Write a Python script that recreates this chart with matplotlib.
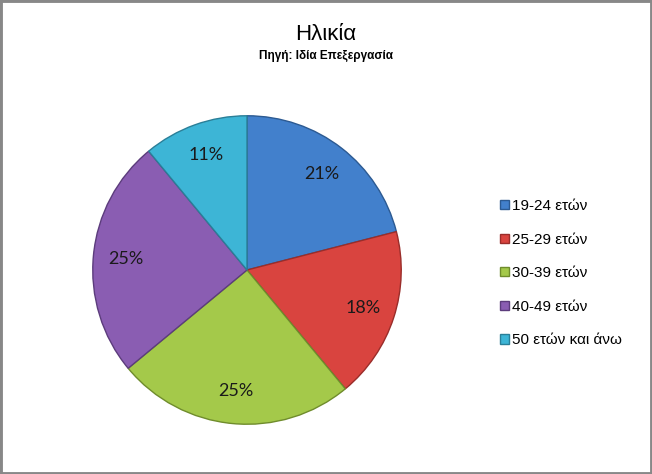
import matplotlib
matplotlib.use("Agg")
import matplotlib.pyplot as plt
from matplotlib.patches import Rectangle

categories = ["19-24 ετών", "25-29 ετών", "30-39 ετών", "40-49 ετών", "50 ετών και άνω"]
values = [21, 18, 25, 25, 11]
colors = ["#4280cc", "#d9443f", "#a4c94a", "#8a5db2", "#3db5d6"]
edge_colors = ["#2c5a92", "#9a2d2a", "#6f8c2c", "#5c3c7c", "#2a7f98"]
title = "Ηλικία"
subtitle = "Πηγή: Ιδία Επεξεργασία"

W, H = 652, 474
fig = plt.figure(figsize=(W / 100, H / 100), dpi=100)
fig.patch.set_facecolor("white")

narrow = ["Liberation Sans Narrow", "Liberation Sans", "DejaVu Sans"]
label_font = ["Lato", "Open Sans", "DejaVu Sans"]

# pie axes: center (247,270), radius 155 px
cx, cy, r = 247, 270, 155
ax = fig.add_axes([(cx - r) / W, (H - cy - r) / H, 2 * r / W, 2 * r / H])
wedges, texts, autotexts = ax.pie(
    values, colors=colors, startangle=90, counterclock=False,
    autopct=lambda p: f"{p:.0f}%", pctdistance=0.79,
    wedgeprops=dict(linewidth=1.0),
    textprops=dict(fontsize=13, color="#1a1a1a", family=label_font),
)
for w, ec in zip(wedges, edge_colors):
    w.set_edgecolor(ec)
ax.set_xlim(-1.005, 1.005)
ax.set_ylim(-1.005, 1.005)
ax.set_aspect("equal")
ax.axis("off")

fig.text(0.5, 1 - 34 / H, title, ha="center", va="center", fontsize=16,
         family=narrow)
fig.text(0.5, 1 - 56 / H, subtitle, ha="center", va="center", fontsize=8.5,
         fontweight="bold", family=narrow)

leg = fig.legend(wedges, categories, loc="upper left",
                 bbox_to_anchor=(494 / W, 1 - 193 / H), frameon=False,
                 prop=dict(family=narrow, size=11),
                 handlelength=0.55, handleheight=0.55, handletextpad=0.25,
                 labelspacing=1.28, borderaxespad=0)

fig.patches.append(Rectangle((0, 0), 1, 1, transform=fig.transFigure,
                             fill=False, edgecolor="#888888", linewidth=3.5,
                             zorder=10))

fig.savefig("out.png", dpi=100)
